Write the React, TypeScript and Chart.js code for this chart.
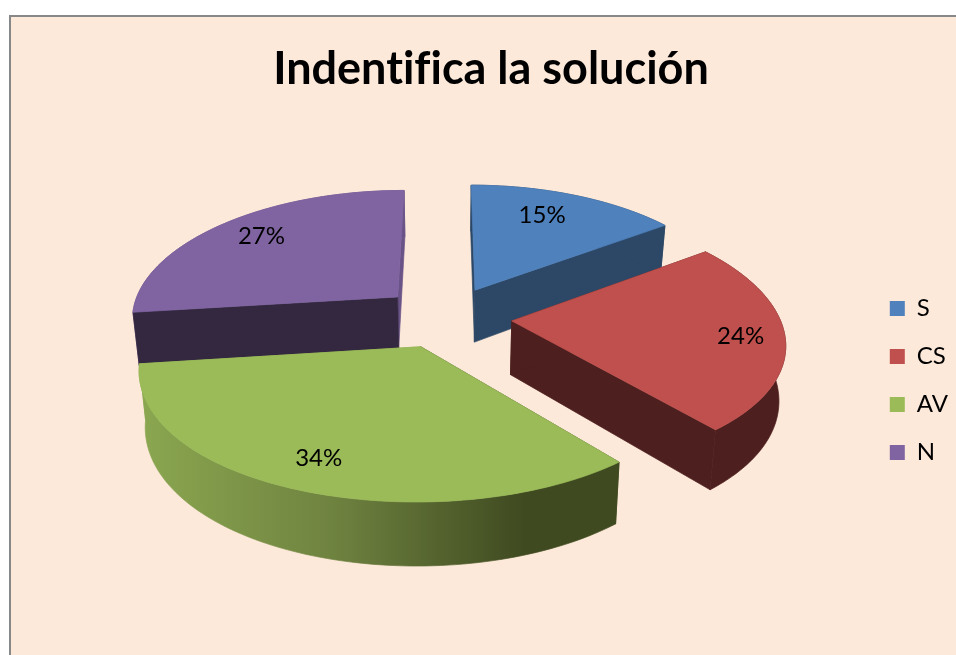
import React, { useEffect, useRef } from "react";
import { Chart, registerables } from "chart.js";

Chart.register(...registerables);

const categories = ["S", "CS", "AV", "N"];
const shares = [15, 24, 34, 27];
const topColors = ["#4F81BD", "#C0504D", "#9BBB59", "#8064A2"];
const wallColors = ["#2C4866", "#4D1F1F", "#3F4A20", "#332840"];
const endWallColors = ["#2C4866", "#4D1F1F", "#8BA750", "#6A5387"];
const rimColors = ["#2C4866", "#4D1F1F", "#3F4A20", "#6A5387"];
const drawOrder = [3, 0, 1, 2];
const labelRadius = [0.765, 0.84, 0.8, 0.8];
const labelAngleShift = [-4, 0, 1.5, 2];

const view = {
  cx: 446,
  cy: 317,
  radius: 267.5,
  tilt: 0.47,
  perspX: 0.00058,
  perspY: 0.0005,
  depth: 53.5,
  narrow: 0.02,
  explode: 66,
};

type Pt = { x: number; y: number };
const project = (u: number, v: number, z = 0): Pt => {
  const sx = 1 / (1 - view.perspX * v);
  const sy = 1 / (1 - view.perspY * v);
  return {
    x: view.cx + u * sx * (1 - (view.narrow * z) / view.depth),
    y: view.cy + (view.tilt * v + z) * sy,
  };
};
const polar = (theta: number, r: number, z: number, mid: number) => {
  const u = Math.sin(mid) * view.explode + Math.sin(theta) * r;
  const v = -Math.cos(mid) * view.explode - Math.cos(theta) * r;
  return project(u, v, z);
};
const trace = (ctx: CanvasRenderingContext2D, pts: Pt[]) => {
  ctx.beginPath();
  pts.forEach((p, i) => (i ? ctx.lineTo(p.x, p.y) : ctx.moveTo(p.x, p.y)));
  ctx.closePath();
};
const paint = (ctx: CanvasRenderingContext2D, style: string | CanvasGradient) => {
  ctx.fillStyle = style;
  ctx.strokeStyle = style;
  ctx.lineWidth = 0.7;
  ctx.fill();
  ctx.stroke();
};

const pie3d = {
  id: "pie3d",
  beforeDraw(chart: any) {
    chart.ctx.textRendering = "optimizeSpeed";
  },
  beforeDatasetsDraw(chart: any) {
    const { ctx } = chart;
    const arcs = chart.getDatasetMeta(0).data;
    ctx.save();
    drawOrder.forEach((i) => {
      const { startAngle, endAngle } = arcs[i].getProps(["startAngle", "endAngle"], true);
      const a0 = startAngle + Math.PI / 2;
      const a1 = endAngle + Math.PI / 2;
      const mid = (a0 + a1) / 2;
      const n = 90;
      const rim: number[] = [];
      for (let k = 0; k <= n; k++) rim.push(a0 + ((a1 - a0) * k) / n);
      const top = (t: number) => polar(t, view.radius, 0, mid);
      const bot = (t: number) => polar(t, view.radius, view.depth, mid);
      const tip = polar(0, 0, 0, mid);
      const tipB = polar(0, 0, view.depth, mid);

      trace(ctx, [tip, top(a1), bot(a1), tipB]);
      paint(ctx, endWallColors[i]);

      trace(ctx, [...rim.map(top), ...rim.slice().reverse().map(bot)]);
      if (i === 2) {
        const g = ctx.createLinearGradient(140, 0, 620, 0);
        g.addColorStop(0, "#8BA750");
        g.addColorStop(0.4, "#6F8340");
        g.addColorStop(0.8, "#3F4A20");
        g.addColorStop(1, "#3F4A20");
        paint(ctx, g);
      } else {
        paint(ctx, rimColors[i]);
      }

      trace(ctx, [tip, top(a0), bot(a0), tipB]);
      paint(ctx, wallColors[i]);

      trace(ctx, [tip, ...rim.map(top)]);
      paint(ctx, topColors[i]);
    });
    ctx.fillStyle = "#000";
    ctx.font = "24px Lato";
    ctx.textAlign = "center";
    ctx.textBaseline = "middle";
    arcs.forEach((arc: any, i: number) => {
      const { startAngle, endAngle } = arc.getProps(["startAngle", "endAngle"], true);
      const mid = (startAngle + endAngle) / 2 + Math.PI / 2;
      const p = polar(mid + (labelAngleShift[i] * Math.PI) / 180, labelRadius[i] * view.radius, 0, mid);
      ctx.fillText(shares[i] + "%", p.x, p.y + 1.5);
    });
    ctx.restore();
    return false;
  },
};

export default function App() {
  const ref = useRef<HTMLCanvasElement>(null);
  useEffect(() => {
    const chart = new Chart(ref.current!, {
      type: "pie",
      data: {
        labels: categories,
        datasets: [{ data: shares, backgroundColor: topColors, borderWidth: 0 }],
      },
      options: {
        responsive: false,
        animation: false,
        layout: { padding: { left: 24, top: 26, right: -2, bottom: 0 } },
        plugins: {
          title: {
            display: true,
            text: "Indentifica la solución",
            color: "#000",
            font: { family: "Lato", size: 45, weight: "bold" },
            padding: { top: 16, bottom: 10 },
          },
          legend: {
            position: "right",
            fullSize: false,
            labels: {
              boxWidth: 15,
              boxHeight: 15,
              padding: 24,
              color: "#000",
              font: { family: "Lato", size: 24 },
            },
          },
          tooltip: { enabled: false },
        },
      },
      plugins: [pie3d],
    } as any);
    return () => chart.destroy();
  }, []);
  return (
    <div style={{ position: "fixed", left: 0, top: 0, width: 956, height: 655, overflow: "hidden", background: "#fff" }}>
      <div style={{ position: "absolute", left: 9, top: 15, width: 1000, height: 700, background: "#FDE9D9", border: "2px solid #888" }} />
      <canvas ref={ref} width={956} height={655} style={{ position: "absolute", left: 0, top: 0, display: "block" }} />
    </div>
  );
}
